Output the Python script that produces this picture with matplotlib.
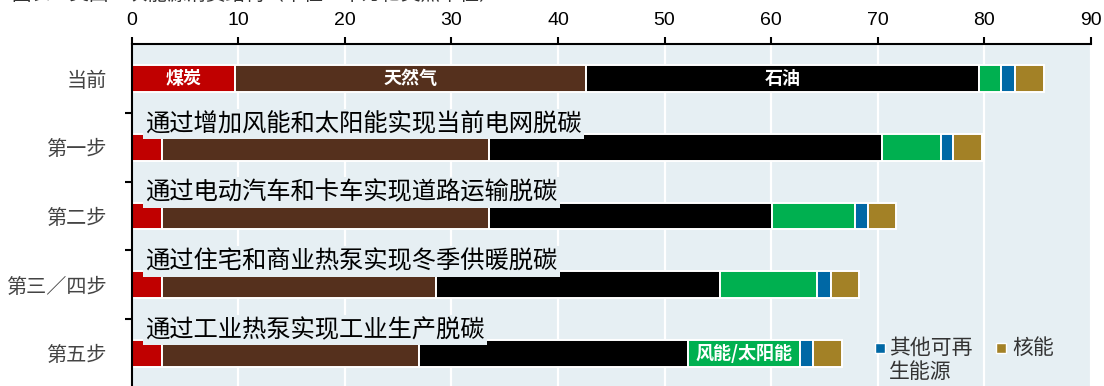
import matplotlib.pyplot as plt
from matplotlib.ticker import MultipleLocator

plt.rcParams['font.family'] = ['Noto Sans CJK SC', 'DejaVu Sans']

# Energy mix per decarbonisation step (stacked segments)
steps = ["当前", "第一步", "第二步", "第三／四步", "第五步"]
coal = [9.7, 2.9, 2.9, 2.9, 2.9]
gas = [32.9, 30.6, 30.6, 25.7, 24.1]
oil = [36.9, 36.9, 26.6, 26.6, 25.2]
wind_solar = [2.1, 5.5, 7.8, 9.1, 10.5]
other_renew = [1.3, 1.2, 1.2, 1.3, 1.2]
nuclear = [2.7, 2.7, 2.6, 2.6, 2.7]

step_notes = ["", "通过增加风能和太阳能实现当前电网脱碳", "通过电动汽车和卡车实现道路运输脱碳",
              "通过住宅和商业热泵实现冬季供暖脱碳", "通过工业热泵实现工业生产脱碳"]

series = [coal, gas, oil, wind_solar, other_renew, nuclear]
colors = ["#C00000", "#55301D", "#000000", "#00B050", "#0068A5", "#A38126"]
bg = "#E6EFF3"

fig = plt.figure(figsize=(11.04, 3.86), dpi=100)
ax = fig.add_axes([131.5 / 1104, -1.7 / 386, 959.5 / 1104, 343.4 / 386])
ax.set_facecolor(bg)

y = list(range(len(steps)))
left = [0.0] * len(steps)
for vals, c in zip(series, colors):
    ax.barh(y, vals, left=left, height=0.39, color=c, edgecolor="white", linewidth=1.4, zorder=2)
    left = [l + v for l, v in zip(left, vals)]

# labels inside the first bar and the wind/solar segment of the last one
inner = dict(color="white", ha="center", va="center", fontsize=13, fontweight="bold", zorder=4)
ax.text(coal[0] / 2, 0, "煤炭", **inner)
ax.text(coal[0] + gas[0] / 2, 0, "天然气", **inner)
ax.text(coal[0] + gas[0] + oil[0] / 2, 0, "石油", **inner)
ws_left = coal[4] + gas[4] + oil[4]
ax.text(ws_left + wind_solar[4] / 2, 4, "风能/太阳能", **inner)

# step descriptions above each bar
for i, note in enumerate(step_notes):
    if note:
        ax.text(1.3, i - 0.34, note, fontsize=17.5, color="black",
                ha="left", va="center", zorder=3,
                bbox=dict(facecolor=bg, edgecolor="none", pad=1.5))

# axes styling
ax.set_xlim(0, 90)
ax.set_ylim(4.5, -0.5)
ax.xaxis.tick_top()
ax.xaxis.set_major_locator(MultipleLocator(10))
ax.tick_params(axis="x", direction="out", length=5, width=1.5, pad=6, labelsize=14)
for lab in ax.get_xticklabels():
    lab.set_fontfamily("Liberation Sans")

ax.set_yticks(y)
ax.set_yticklabels(steps, fontsize=14.5, color="#444444")
ax.set_yticks([i + 0.5 for i in range(len(steps) - 1)], minor=True)
ax.tick_params(axis="y", which="major", length=0, pad=18)
ax.tick_params(axis="y", which="minor", direction="out", length=5, width=1.5)

ax.grid(axis="x", color="white", linewidth=1.6, zorder=0.5)
ax.set_axisbelow(True)
for s in ["right", "bottom"]:
    ax.spines[s].set_visible(False)
ax.spines["top"].set_linewidth(1.5)
ax.spines["left"].set_linewidth(1.5)

# legend for the two small segments
ax.plot([0.780], [0.1156], marker="s", markersize=7, color=colors[4], markeredgecolor="white",
        transform=ax.transAxes, clip_on=False, zorder=5)
ax.text(0.7895, 0.0818, "其他可再\n生能源", transform=ax.transAxes, fontsize=15, color="#333333",
        ha="left", va="center", linespacing=1.15, zorder=5)
ax.plot([0.906], [0.1156], marker="s", markersize=7, color=colors[5], markeredgecolor="white",
        transform=ax.transAxes, clip_on=False, zorder=5)
ax.text(0.9177, 0.1156, "核能", transform=ax.transAxes, fontsize=15, color="#333333",
        ha="left", va="center", zorder=5)

# chart heading (sits at the very top edge)
fig.text(0.01, 1.014, "图表：美国一次能源消费结构（单位：千万亿英热单位）", fontsize=14, color="#333333",
         ha="left", va="center")

fig.savefig("out.png", dpi=100)
